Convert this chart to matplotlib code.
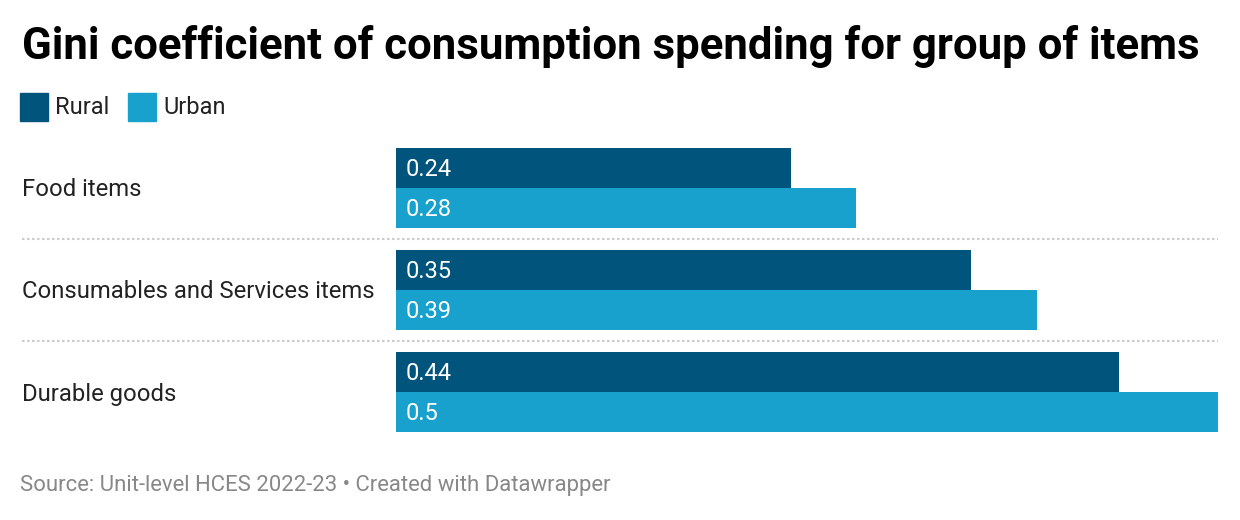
#!/usr/bin/env python3
"""Gini coefficient of consumption spending, rural vs urban, grouped bars."""

import matplotlib

matplotlib.use("Agg")
import matplotlib.pyplot as plt
from matplotlib.patches import Rectangle
from matplotlib.transforms import blended_transform_factory

plt.rcParams["font.family"] = ["Roboto", "DejaVu Sans"]

categories = ["Food items", "Consumables and Services items", "Durable goods"]
rural = [0.24, 0.35, 0.44]
urban = [0.28, 0.39, 0.5]
rural_labels = ["0.24", "0.35", "0.44"]
urban_labels = ["0.28", "0.39", "0.5"]

RURAL_COLOR = "#01547c"
URBAN_COLOR = "#18a1cd"

W, H = 1240, 520
fig = plt.figure(figsize=(W / 100, H / 100), dpi=100)

# axes placed in pixel terms: bars run from x=396 to 1218, y=148 to 432
ax = fig.add_axes([396 / W, 1 - 432 / H, (1218 - 396) / W, (432 - 148) / H])
bar_h = 40 / 102
ypos = list(range(len(categories)))
ax.barh([y - bar_h / 2 for y in ypos], rural, height=bar_h, color=RURAL_COLOR)
ax.barh([y + bar_h / 2 for y in ypos], urban, height=bar_h, color=URBAN_COLOR)
ax.set_xlim(0, 0.5)
ax.set_ylim(len(categories) - 1 + bar_h, -bar_h)
ax.axis("off")

dy = 2 / 102  # small nudge down so text sits like the original
for y, rl, ul in zip(ypos, rural_labels, urban_labels):
    ax.text(0.006, y - bar_h / 2 + dy, rl, color="white", fontsize=17,
            va="center")
    ax.text(0.006, y + bar_h / 2 + dy, ul, color="white", fontsize=17,
            va="center")

# category labels and dotted separators, x in figure coords
tr = blended_transform_factory(fig.transFigure, ax.transData)
for y, name in zip(ypos, categories):
    ax.text(22 / W, y + dy, name, transform=tr, fontsize=17.2, va="center",
            color="#222222")
for y in ypos[:-1]:
    ax.plot([22 / W, 1218 / W], [y + 0.5, y + 0.5], transform=tr,
            clip_on=False, color="#cccccc", linestyle=(0, (1.2, 1.2)),
            linewidth=1.5)

fig.text(22 / W, 1 - 46 / H,
         "Gini coefficient of consumption spending for group of items",
         fontsize=31.5, fontweight="bold", va="center", color="#000000")

# legend
for x0, label, color in [(20, "Rural", RURAL_COLOR), (128, "Urban", URBAN_COLOR)]:
    fig.add_artist(Rectangle((x0 / W, 1 - 121 / H), 28 / W, 28 / H,
                             transform=fig.transFigure, color=color))
    fig.text((x0 + 35) / W, 1 - 108 / H, label, fontsize=17, va="center",
             color="#222222")

fig.text(20 / W, 1 - 486 / H,
         "Source: Unit-level HCES 2022-23 \u2022 Created with Datawrapper",
         fontsize=15.9, va="center", color="#888888")

fig.savefig("out.png", dpi=100)
